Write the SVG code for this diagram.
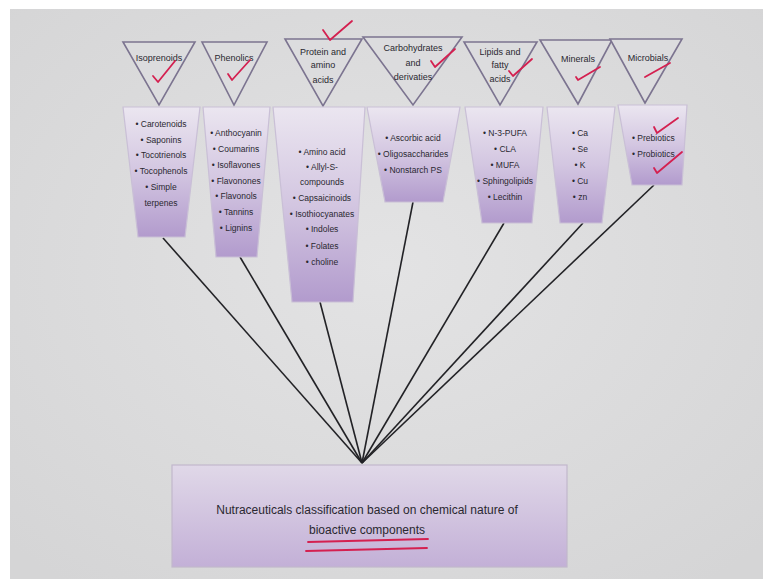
<svg xmlns="http://www.w3.org/2000/svg" width="763" height="579" viewBox="0 0 763 579">
<style>
.tri{fill:#dcdcde;stroke:#7c7490;stroke-width:1.6}
.box{fill:url(#boxg);stroke:#c9bfd6;stroke-width:1.2}
.main{fill:url(#maing);stroke:#c2b8cc;stroke-width:1.2}
text{font-family:"Liberation Sans",Arial,sans-serif;fill:#2a2830;text-anchor:middle}
.h{font-size:9px}
.l{font-size:8.5px}
.m{font-size:12px}
.conn line{stroke:#222226;stroke-width:1.6}
.chk{fill:none;stroke:#d42050;stroke-width:1.8;stroke-linecap:round;stroke-linejoin:round}
</style>
<defs>
<linearGradient id="boxg" x1="0" y1="0" x2="0" y2="1">
<stop offset="0" stop-color="#ebe6f0"/>
<stop offset="0.5" stop-color="#d3c6e1"/>
<stop offset="1" stop-color="#b29bcd"/>
</linearGradient>
<linearGradient id="maing" x1="0" y1="0" x2="0" y2="1">
<stop offset="0" stop-color="#e0d8e8"/>
<stop offset="1" stop-color="#c3b0d7"/>
</linearGradient>
<radialGradient id="bg" cx="0.5" cy="0.45" r="0.7">
<stop offset="0" stop-color="#e3e3e4"/>
<stop offset="1" stop-color="#d5d5d6"/>
</radialGradient>
</defs>
<rect x="0" y="0" width="763" height="579" fill="#ffffff"/>
<rect x="10" y="9" width="753" height="570" fill="url(#bg)"/>

<g id="connectors" class="conn">
<line x1="163" y1="238" x2="362" y2="463"/>
<line x1="240" y1="257" x2="362" y2="463"/>
<line x1="320" y1="302" x2="362" y2="463"/>
<line x1="413" y1="202" x2="362" y2="463"/>
<line x1="504" y1="223" x2="362" y2="463"/>
<line x1="583" y1="223" x2="362" y2="463"/>
<line x1="654" y1="185" x2="362" y2="463"/>
</g>

<g id="isoprenoids">
<polygon class="tri" points="123,42 195,42 159,105"/>
<text class="h" x="159" y="61">Isoprenoids</text>
<polygon class="box" points="123,107 200,107 185,237 138,237"/>
<text class="l" x="161" y="127">• Carotenoids</text>
<text class="l" x="161" y="143">• Saponins</text>
<text class="l" x="161" y="158">• Tocotrienols</text>
<text class="l" x="161" y="174">• Tocophenols</text>
<text class="l" x="161" y="190">• Simple</text>
<text class="l" x="161" y="206">terpenes</text>
</g>

<g id="phenolics">
<polygon class="tri" points="202,42 267,42 234,105"/>
<text class="h" x="234" y="61">Phenolics</text>
<polygon class="box" points="203,107 270,107 257,257 216,257"/>
<text class="l" x="236" y="136">• Anthocyanin</text>
<text class="l" x="236" y="152">• Coumarins</text>
<text class="l" x="236" y="168">• Isoflavones</text>
<text class="l" x="236" y="184">• Flavonones</text>
<text class="l" x="236" y="199">• Flavonols</text>
<text class="l" x="236" y="215">• Tannins</text>
<text class="l" x="236" y="231">• Lignins</text>
</g>

<g id="protein">
<polygon class="tri" points="285,39 362,39 323,106"/>
<text class="h" x="323" y="55">Protein and</text>
<text class="h" x="323" y="68">amino</text>
<text class="h" x="323" y="83">acids</text>
<polygon class="box" points="273,107 365,107 353,302 292,302"/>
<text class="l" x="322" y="155">• Amino acid</text>
<text class="l" x="322" y="170">• Allyl-S-</text>
<text class="l" x="322" y="185">compounds</text>
<text class="l" x="322" y="201">• Capsaicinoids</text>
<text class="l" x="322" y="217">• Isothiocyanates</text>
<text class="l" x="322" y="232">• Indoles</text>
<text class="l" x="322" y="249">• Folates</text>
<text class="l" x="322" y="265">• choline</text>
</g>

<g id="carbohydrates">
<polygon class="tri" points="363,37 462,37 413,105"/>
<text class="h" x="413" y="51">Carbohydrates</text>
<text class="h" x="413" y="66">and</text>
<text class="h" x="413" y="80">derivaties</text>
<polygon class="box" points="367,107 460,107 443,202 385,202"/>
<text class="l" x="413" y="141">• Ascorbic acid</text>
<text class="l" x="413" y="157">• Oligosaccharides</text>
<text class="l" x="413" y="173">• Nonstarch PS</text>
</g>

<g id="lipids">
<polygon class="tri" points="464,42 537,42 500,105"/>
<text class="h" x="500" y="55">Lipids and</text>
<text class="h" x="500" y="68">fatty</text>
<text class="h" x="500" y="82">acids</text>
<polygon class="box" points="465,107 543,107 532,223 482,223"/>
<text class="l" x="505" y="136">• N-3-PUFA</text>
<text class="l" x="505" y="152">• CLA</text>
<text class="l" x="505" y="168">• MUFA</text>
<text class="l" x="505" y="184">• Sphingolipids</text>
<text class="l" x="505" y="200">• Lecithin</text>
</g>

<g id="minerals">
<polygon class="tri" points="540,40 612,40 578,104"/>
<text class="h" x="578" y="62">Minerals</text>
<polygon class="box" points="547,107 615,107 602,223 560,223"/>
<text class="l" x="580" y="136">• Ca</text>
<text class="l" x="580" y="152">• Se</text>
<text class="l" x="580" y="168">• K</text>
<text class="l" x="580" y="184">• Cu</text>
<text class="l" x="580" y="200">• zn</text>
</g>

<g id="microbials">
<polygon class="tri" points="610,39 682,39 645,103"/>
<text class="h" x="648" y="61">Microbials</text>
<polygon class="box" points="618,105 687,105 682,185 632,185"/>
<text class="l" x="632" y="141" style="text-anchor:start">•  Prebiotics</text>
<text class="l" x="632" y="157" style="text-anchor:start">•  Probiotics</text>
</g>

<g id="classification">
<rect class="main" x="172" y="465" width="395" height="102"/>
<text class="m" x="367" y="514">Nutraceuticals classification based on chemical nature of</text>
<text class="m" x="367" y="534">bioactive components</text>
</g>

<g id="annotations">
<path class="chk" d="M153,76 L158,82 L175,61"/>
<path class="chk" d="M228,74 L232,80 L250,60"/>
<path class="chk" d="M323,30 L330,40 L352,21"/>
<path class="chk" d="M431,61 L435,67 L455,49"/>
<path class="chk" d="M509,71 L513,76 L532,59"/>
<path class="chk" d="M576,77 L578,80 L600,67"/>
<path class="chk" d="M645,77 L670,63"/>
<path class="chk" d="M654,127 L657,133 L678,118"/>
<path class="chk" d="M654,168 L657,173 L682,152"/>
<path class="chk" d="M308,542 L428,539"/>
<path class="chk" d="M306,551 L427,548"/>
</g>
</svg>
